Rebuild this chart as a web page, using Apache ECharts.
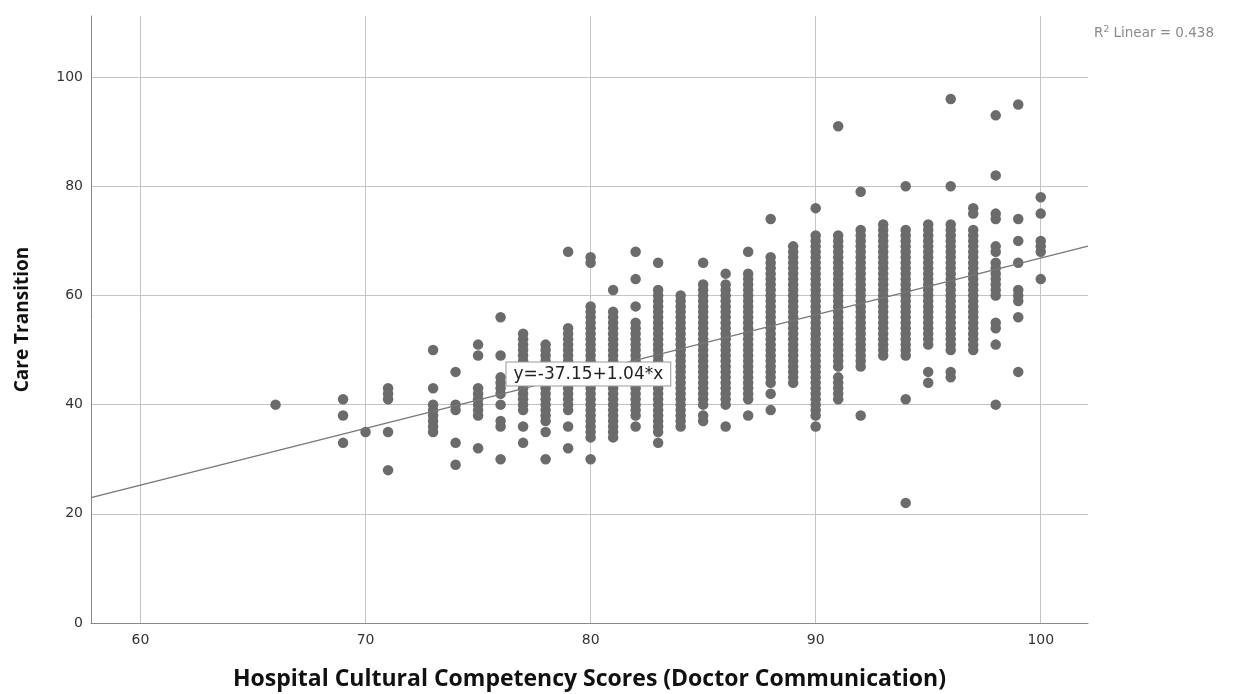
<!DOCTYPE html>
<html><head><meta charset="utf-8">
<script src="https://cdn.jsdelivr.net/npm/echarts@6/dist/echarts.min.js"></script>
<style>html,body{margin:0;padding:0;background:#fff}#main{width:1234px;height:694px}</style>
</head><body><div id="main"></div>
<script>
// Hospital Cultural Competency Scores (x) and the Care Transition values observed at each score
const xScores = [66, 69, 70, 71, 73, 74, 75, 76, 77, 78, 79, 80, 81, 82, 83, 84, 85, 86, 87, 88, 89, 90, 91, 92, 93, 94, 95, 96, 97, 98, 99, 100];
const careTransition = [
  [40],
  [41, 38, 33],
  [35],
  [43, 42, 41, 35, 28],
  [50, 43, 40, 39, 38, 37, 36, 35],
  [46, 40, 39, 33, 29],
  [51, 49, 43, 42, 41, 40, 39, 38, 32],
  [56, 49, 45, 44, 43, 42, 40, 37, 36, 30],
  [53, 52, 51, 50, 49, 48, 47, 46, 45, 44, 43, 42, 41, 40, 39, 36, 33],
  [51, 50, 49, 48, 47, 46, 45, 44, 43, 42, 41, 40, 39, 38, 37, 35, 30],
  [68, 54, 53, 52, 51, 50, 49, 48, 47, 46, 45, 44, 43, 42, 41, 40, 39, 36, 32],
  [67, 66, 58, 57, 56, 55, 54, 53, 52, 51, 50, 49, 48, 47, 46, 45, 44, 43, 42, 41, 40, 39, 38, 37, 36, 35, 34, 30],
  [61, 57, 56, 55, 54, 53, 52, 51, 50, 49, 48, 47, 46, 45, 44, 43, 42, 41, 40, 39, 38, 37, 36, 35, 34],
  [68, 63, 58, 55, 54, 53, 52, 51, 50, 49, 48, 47, 46, 45, 44, 43, 42, 41, 40, 39, 38, 36],
  [66, 61, 60, 59, 58, 57, 56, 55, 54, 53, 52, 51, 50, 49, 48, 47, 46, 45, 44, 43, 42, 41, 40, 39, 38, 37, 36, 35, 33],
  [60, 59, 58, 57, 56, 55, 54, 53, 52, 51, 50, 49, 48, 47, 46, 45, 44, 43, 42, 41, 40, 39, 38, 37, 36],
  [66, 62, 61, 60, 59, 58, 57, 56, 55, 54, 53, 52, 51, 50, 49, 48, 47, 46, 45, 44, 43, 42, 41, 40, 38, 37],
  [64, 62, 61, 60, 59, 58, 57, 56, 55, 54, 53, 52, 51, 50, 49, 48, 47, 46, 45, 44, 43, 42, 41, 40, 36],
  [68, 64, 63, 62, 61, 60, 59, 58, 57, 56, 55, 54, 53, 52, 51, 50, 49, 48, 47, 46, 45, 44, 43, 42, 41, 38],
  [74, 67, 66, 65, 64, 63, 62, 61, 60, 59, 58, 57, 56, 55, 54, 53, 52, 51, 50, 49, 48, 47, 46, 45, 44, 42, 39],
  [69, 68, 67, 66, 65, 64, 63, 62, 61, 60, 59, 58, 57, 56, 55, 54, 53, 52, 51, 50, 49, 48, 47, 46, 45, 44],
  [76, 71, 70, 69, 68, 67, 66, 65, 64, 63, 62, 61, 60, 59, 58, 57, 56, 55, 54, 53, 52, 51, 50, 49, 48, 47, 46, 45, 44, 43, 42, 41, 40, 39, 38, 36],
  [91, 71, 70, 69, 68, 67, 66, 65, 64, 63, 62, 61, 60, 59, 58, 57, 56, 55, 54, 53, 52, 51, 50, 49, 48, 47, 45, 44, 43, 42, 41],
  [79, 72, 71, 70, 69, 68, 67, 66, 65, 64, 63, 62, 61, 60, 59, 58, 57, 56, 55, 54, 53, 52, 51, 50, 49, 48, 47, 38],
  [73, 72, 71, 70, 69, 68, 67, 66, 65, 64, 63, 62, 61, 60, 59, 58, 57, 56, 55, 54, 53, 52, 51, 50, 49],
  [80, 72, 71, 70, 69, 68, 67, 66, 65, 64, 63, 62, 61, 60, 59, 58, 57, 56, 55, 54, 53, 52, 51, 50, 49, 41, 22],
  [73, 72, 71, 70, 69, 68, 67, 66, 65, 64, 63, 62, 61, 60, 59, 58, 57, 56, 55, 54, 53, 52, 51, 46, 44],
  [96, 80, 73, 72, 71, 70, 69, 68, 67, 66, 65, 64, 63, 62, 61, 60, 59, 58, 57, 56, 55, 54, 53, 52, 51, 50, 46, 45],
  [76, 75, 72, 71, 70, 69, 68, 67, 66, 65, 64, 63, 62, 61, 60, 59, 58, 57, 56, 55, 54, 53, 52, 51, 50],
  [93, 82, 75, 74, 69, 68, 66, 65, 64, 63, 62, 61, 60, 55, 54, 51, 40],
  [95, 74, 70, 66, 61, 60, 59, 56, 46],
  [78, 75, 70, 69, 68, 63]
];
const xTicks = [60, 70, 80, 90, 100];
const yTicks = [0, 20, 40, 60, 80, 100];
const fitIntercept = -37.15;
const fitSlope = 1.04;
const rSquared = 0.438;
const xTitle = 'Hospital Cultural Competency Scores (Doctor Communication)';
const yTitle = 'Care Transition';

const xMin = 57.8, xMax = 102.1, yMin = 0, yMax = 111.2;

const points = [];
xScores.forEach((x, i) => careTransition[i].forEach(y => points.push([x, y])));
const fitLine = [[xMin, fitIntercept + fitSlope * xMin], [xMax, fitIntercept + fitSlope * xMax]];
const fitLabel = 'y=' + fitIntercept.toFixed(2) + '+' + fitSlope.toFixed(2) + '*x';

const chart = echarts.init(document.getElementById('main'), null, {renderer: 'canvas'});
chart.setOption({
  animation: false,
  backgroundColor: '#ffffff',
  textStyle: {fontFamily: 'DejaVu Sans'},
  title: {
    right: 15, top: 20,
    text: '{a|R}{s|2}{a| Linear = ' + rSquared.toFixed(3) + '}',
    textStyle: {
      fontWeight: 'normal',
      rich: {
        a: {fontSize: 13.5, color: '#8a8a8a', fontFamily: 'DejaVu Sans', fontWeight: 'normal', lineHeight: 17},
        s: {fontSize: 9, color: '#8a8a8a', fontFamily: 'DejaVu Sans', fontWeight: 'normal', verticalAlign: 'top', lineHeight: 17}
      }
    }
  },
  grid: {left: 91, right: 146, top: 16, bottom: 71, containLabel: false, outerBoundsMode: 'none'},
  xAxis: {
    type: 'value', min: xMin, max: xMax,
    name: xTitle, nameLocation: 'middle', nameGap: 45,
    nameTextStyle: {fontFamily: 'Open Sans', fontWeight: 'bold', fontSize: 23, color: '#111'},
    axisLine: {show: true, onZero: false, lineStyle: {color: '#888', width: 1}},
    axisTick: {show: false, customValues: xTicks},
    axisLabel: {customValues: xTicks, color: '#333', fontSize: 14, margin: 10},
    splitLine: {show: true, lineStyle: {color: '#c4c4c4', width: 1}}
  },
  yAxis: {
    type: 'value', min: yMin, max: yMax,
    name: yTitle, nameLocation: 'middle', nameGap: 59, nameRotate: 90,
    nameTextStyle: {fontFamily: 'Open Sans', fontWeight: 'bold', fontSize: 19, color: '#111'},
    axisLine: {show: true, lineStyle: {color: '#888', width: 1}},
    axisTick: {show: false, customValues: yTicks},
    axisLabel: {customValues: yTicks, color: '#333', fontSize: 14, margin: 8},
    splitLine: {show: true, lineStyle: {color: '#c4c4c4', width: 1}}
  },
  series: [
    {
      type: 'scatter', data: points, symbolSize: 10.5, silent: true,
      itemStyle: {color: '#6b6b6b', opacity: 1}, z: 2
    },
    {
      type: 'line', data: fitLine, symbol: 'none', silent: true, z: 3,
      lineStyle: {color: '#777', width: 1.3},
      markPoint: {
        symbol: 'rect', symbolSize: 0, silent: true, z: 4,
        data: [{coord: [79.9, 45.6], value: fitLabel}],
        label: {
          show: true, position: 'inside', formatter: fitLabel,
          color: '#222', fontSize: 17, fontFamily: 'DejaVu Sans',
          backgroundColor: '#fff', borderColor: '#999', borderWidth: 1, padding: [3, 7]
        }
      }
    }
  ]
});
</script></body></html>
